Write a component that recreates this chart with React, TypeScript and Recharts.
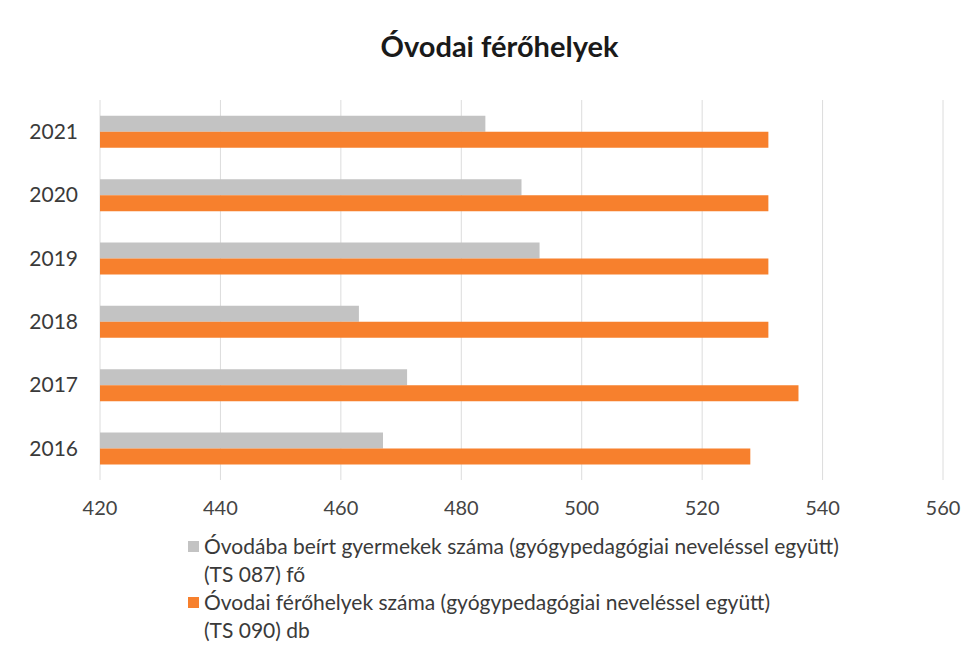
import { BarChart, Bar, XAxis, YAxis, CartesianGrid } from "recharts";

const years = ["2016", "2017", "2018", "2019", "2020", "2021"];
const enrolled = [467, 471, 463, 493, 490, 484]; // TS 087 fő
const places = [528, 536, 531, 531, 531, 531]; // TS 090 db
const xTicks = [420, 440, 460, 480, 500, 520, 540, 560];

const SERIES = [
  {
    key: "enrolled",
    color: "#c3c3c3",
    lines: ["Óvodába beírt gyermekek száma (gyógypedagógiai neveléssel együtt)", "(TS 087) fő"],
  },
  {
    key: "places",
    color: "#f7802d",
    lines: ["Óvodai férőhelyek száma (gyógypedagógiai neveléssel együtt)", "(TS 090) db"],
  },
];

const data = years.map((year, i) => ({
  year,
  enrolled: enrolled[i],
  places: places[i],
}));

const SANS = "Lato, 'Open Sans', sans-serif";

function LegendBox() {
  return (
    <div
      style={{
        position: "absolute",
        left: 188,
        top: 532,
        fontFamily: SANS,
        fontSize: 21,
        color: "#3a3a3a",
        lineHeight: "28px",
      }}
    >
      {SERIES.map((s) => (
        <div key={s.key}>
          <div style={{ display: "flex", alignItems: "center" }}>
            <span
              style={{
                display: "inline-block",
                width: 11,
                height: 11,
                background: s.color,
                marginRight: 5,
              }}
            />
            {s.lines[0]}
          </div>
          <div style={{ paddingLeft: 16 }}>{s.lines[1]}</div>
        </div>
      ))}
    </div>
  );
}

export default function App() {
  return (
    <div
      style={{
        position: "absolute",
        left: 0,
        top: 0,
        width: 979,
        height: 652,
        background: "#fff",
      }}
    >
      <div
        style={{
          position: "absolute",
          top: 28,
          width: 979,
          left: 10,
          textAlign: "center",
          fontFamily: SANS,
          fontWeight: 700,
          fontSize: 29,
          color: "#1a1a1a",
        }}
      >
        Óvodai férőhelyek
      </div>
      <BarChart
        width={979}
        height={652}
        data={data}
        layout="vertical"
        margin={{ top: 100, right: 36, bottom: 132, left: 0 }}
        barCategoryGap="25%"
        barGap={0}
      >
        <CartesianGrid horizontal={false} stroke="#dcdcdc" />
        <XAxis
          type="number"
          domain={[420, 560]}
          ticks={xTicks}
          allowDataOverflow
          axisLine={false}
          tickLine={false}
          height={40}
          tickMargin={15}
          tick={{ fill: "#444", fontSize: 20, fontFamily: SANS }}
        />
        <YAxis
          type="category"
          dataKey="year"
          reversed
          width={100}
          axisLine={false}
          tickLine={false}
          tickMargin={16}
          tick={{ fill: "#3a3a3a", fontSize: 21, fontFamily: SANS }}
        />
        {SERIES.map((s) => (
          <Bar key={s.key} dataKey={s.key} fill={s.color} isAnimationActive={false} />
        ))}
      </BarChart>
      <LegendBox />
    </div>
  );
}
